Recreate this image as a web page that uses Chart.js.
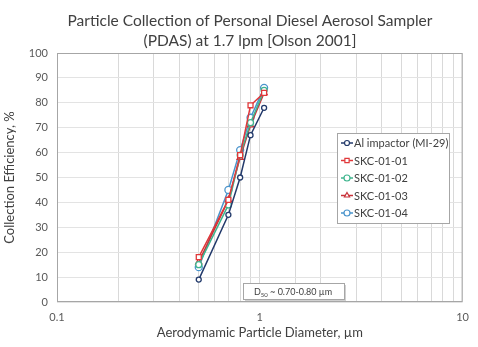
<!DOCTYPE html>
<html>
<head>
<meta charset="utf-8">
<script src="https://cdn.jsdelivr.net/npm/chart.js@4.4.1/dist/chart.umd.min.js"></script>
<style>
  html, body { margin: 0; padding: 0; background: #fff; }
  #wrap { width: 478px; height: 347px; }
</style>
</head>
<body>
<div id="wrap"><canvas id="chartPdas" width="478" height="347"></canvas></div>
<script>
// particle diameters (um) and collection efficiencies (%)
const diameters = [0.5, 0.7, 0.8, 0.9, 1.05];
const aiImpactor = [9, 35, 50, 67, 78];
const skc0101 = [18, 41, 59, 79, 84];
const skc0102 = [15, 39, 59, 72, 85];
const skc0103 = [16, 41, 58, 71, 84];
const skc0104 = [14, 45, 61, 74, 86];

const seriesNames = ["Al impactor (MI-29)", "SKC-01-01", "SKC-01-02", "SKC-01-03", "SKC-01-04"];
const seriesValues = [aiImpactor, skc0101, skc0102, skc0103, skc0104];
const seriesColors = ["#233a6b", "#e0383a", "#3fb58e", "#c8323a", "#4a94cc"];
const seriesPoints = ["circle", "rect", "circle", "triangle", "circle"];
const seriesRadius = [2.5, 3.5, 3, 3.5, 3.5];

const titleLines = ["Particle Collection of Personal Diesel Aerosol Sampler", "(PDAS) at 1.7 lpm [Olson 2001]"];
const xTitle = "Aerodymamic Particle Diameter, \u00b5m";
const yTitle = "Collection Efficiency, %";
const noteText = " ~ 0.70-0.80 \u00b5m";

const FONT = "Lato, 'Open Sans', sans-serif";

let datasets = [];
seriesNames.forEach(function(name, i){
  datasets.push({
    label: name,
    data: diameters.map(function(d, j){ return {x: d, y: seriesValues[i][j]}; }),
    borderColor: seriesColors[i],
    backgroundColor: "#ffffff",
    pointBorderColor: seriesColors[i],
    pointBackgroundColor: "#ffffff",
    pointStyle: seriesPoints[i],
    pointRadius: seriesRadius[i],
    pointBorderWidth: 1.3,
    borderWidth: 1.5,
    tension: 0
  });
});

// title, legend box, D50 note, plot frame
const extras = {
  id: "extras",
  beforeDraw(chart) {
    const ctx = chart.ctx;
    ctx.save();
    ctx.fillStyle = "#404040";
    ctx.font = "15.5px " + FONT;
    ctx.textAlign = "center";
    ctx.textBaseline = "middle";
    titleLines.forEach(function(line, i){
      ctx.fillText(line, 250, 21 + i * 19.5);
    });
    ctx.restore();
  },
  afterDatasetsDraw(chart) {
    const ctx = chart.ctx;
    const a = chart.chartArea;
    ctx.save();
    ctx.strokeStyle = "#a6a6a6";
    ctx.lineWidth = 1;
    ctx.strokeRect(a.left + 0.5, a.top + 0.5, a.right - a.left - 1, a.bottom - a.top - 1);

    // legend
    const lx = 337, ly = 133, lw = 112, lh = 90;
    ctx.fillStyle = "#ffffff";
    ctx.fillRect(lx, ly, lw, lh);
    ctx.strokeStyle = "#a6a6a6";
    ctx.strokeRect(lx + 0.5, ly + 0.5, lw, lh);
    ctx.font = "11px " + FONT;
    ctx.textBaseline = "middle";
    chart.data.datasets.forEach(function(ds, i){
      const y = ly + 10 + i * 17.5;
      ctx.strokeStyle = ds.borderColor;
      ctx.lineWidth = 1.5;
      ctx.beginPath();
      ctx.moveTo(lx + 4, y);
      ctx.lineTo(lx + 16, y);
      ctx.stroke();
      ctx.fillStyle = "#ffffff";
      ctx.lineWidth = 1.2;
      Chart.helpers.drawPoint(ctx, {
        pointStyle: ds.pointStyle, rotation: 0,
        radius: Math.min(ds.pointRadius, 3), borderWidth: 1.2
      }, lx + 10, y);
      ctx.fillStyle = "#404040";
      ctx.fillText(ds.label, lx + 17, y + 0.5);
    });

    // D50 note
    const nx = 243, ny = 283, nw = 101, nh = 16;
    ctx.fillStyle = "#d0d0d0";
    ctx.fillRect(nx + 2, ny + 2, nw, nh);
    ctx.fillStyle = "#ffffff";
    ctx.fillRect(nx, ny, nw, nh);
    ctx.strokeStyle = "#a6a6a6";
    ctx.lineWidth = 1;
    ctx.strokeRect(nx + 0.5, ny + 0.5, nw, nh);
    ctx.fillStyle = "#404040";
    ctx.font = "9px " + FONT;
    ctx.textBaseline = "alphabetic";
    let tx = nx + 11;
    ctx.fillText("D", tx, ny + 11.5);
    tx += ctx.measureText("D").width;
    ctx.font = "6px " + FONT;
    ctx.fillText("50", tx, ny + 13.5);
    tx += ctx.measureText("50").width;
    ctx.font = "9px " + FONT;
    ctx.fillText(noteText, tx, ny + 11.5);
    ctx.restore();
  }
};

// keep the chart area where the reference has it
function fixWidth(scale) { scale.width = 57; }
function fixHeight(scale) { scale.height = 45; }

const pdasChart = new Chart(document.getElementById("chartPdas"), {
  type: "line",
  data: { datasets: datasets },
  options: {
    responsive: false,
    animation: false,
    layout: { padding: { left: 0, right: 14, top: 53, bottom: 0 } },
    plugins: {
      legend: { display: false },
      tooltip: { enabled: false },
      title: { display: false }
    },
    scales: {
      x: {
        type: "logarithmic",
        min: 0.1,
        max: 10,
        afterFit: fixHeight,
        border: { display: false },
        grid: { color: "#d9d9d9", drawTicks: false },
        ticks: {
          autoSkip: false,
          maxRotation: 0,
          padding: 9,
          color: "#595959",
          font: { family: FONT, size: 11 },
          callback: function(value) {
            const l = Math.log10(value);
            return Math.abs(l - Math.round(l)) < 1e-6 ? String(value) : "";
          }
        },
        title: {
          display: true,
          text: xTitle,
          color: "#404040",
          font: { family: FONT, size: 13 },
          padding: { top: 0, bottom: 6 }
        }
      },
      y: {
        min: 0,
        max: 100,
        afterFit: fixWidth,
        border: { display: false },
        grid: { color: "#e3e3e3", drawTicks: false },
        ticks: {
          stepSize: 10,
          padding: 9,
          color: "#595959",
          font: { family: FONT, size: 11 }
        },
        title: {
          display: true,
          text: yTitle,
          color: "#404040",
          font: { family: FONT, size: 13 },
          padding: { top: 2, bottom: 0 }
        }
      }
    }
  },
  plugins: [extras]
});
</script>
</body>
</html>
